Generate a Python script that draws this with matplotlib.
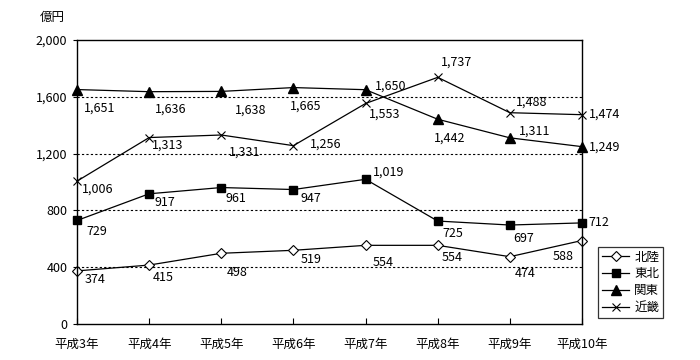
import matplotlib
matplotlib.use('Agg')
import matplotlib.pyplot as plt

plt.rcParams['font.family'] = ['Noto Sans CJK JP', 'DejaVu Sans']

# data
years = ['平成3年', '平成4年', '平成5年', '平成6年', '平成7年', '平成8年', '平成9年', '平成10年']
hokuriku = [374, 415, 498, 519, 554, 554, 474, 588]
tohoku = [729, 917, 961, 947, 1019, 725, 697, 712]
kanto = [1651, 1636, 1638, 1665, 1650, 1442, 1311, 1249]
kinki = [1006, 1313, 1331, 1256, 1553, 1737, 1488, 1474]
names = ['北陸', '東北', '関東', '近畿']
y_ticks = [0, 400, 800, 1200, 1600, 2000]

# label offsets in pixels (dx, dy down)
offsets = {
    '北陸': [(18, 9), (14, 12), (16, 19), (18, 9), (18, 17), (14, 12), (15, 17), (-19, 16)],
    '東北': [(20, 11), (16, 9), (15, 11), (17, 9), (23, -7), (15, 12), (14, 13), (17, 0)],
    '関東': [(23, 19), (22, 17), (29, 19), (12, 19), (25, -4), (12, 19), (25, -7), (23, 0)],
    '近畿': [(21, 8), (19, 8), (23, 17), (32, -2), (19, 11), (19, -15), (22, -11), (23, -1)],
}
styles = {
    '北陸': dict(marker='D', markersize=5.5, markerfacecolor='white', markeredgecolor='black', markeredgewidth=0.8),
    '東北': dict(marker='s', markersize=6, markerfacecolor='black', markeredgecolor='black'),
    '関東': dict(marker='^', markersize=7, markerfacecolor='black', markeredgecolor='black'),
    '近畿': dict(marker='x', markersize=6, markeredgecolor='black', markeredgewidth=0.8),
}
fs = 9

fig = plt.figure(figsize=(7, 3.6), dpi=100)
ax = fig.add_axes([77 / 700, 36 / 360, 505 / 700, 284 / 360])

x = list(range(len(years)))
for name, vals in zip(names, [hokuriku, tohoku, kanto, kinki]):
    ax.plot(x, vals, color='black', linewidth=0.9, label=name, clip_on=False, **styles[name])
    for xi, v, (dx, dy) in zip(x, vals, offsets[name]):
        ax.annotate(f'{v:,}', (xi, v), xytext=(dx, -dy), textcoords='offset pixels',
                    ha='center', va='center', fontsize=fs)

ax.set_xlim(0, len(years) - 1)
ax.set_ylim(0, 2000)
ax.set_yticks(y_ticks)
ax.set_yticklabels([f'{t:,}' for t in y_ticks], fontsize=fs)
ax.set_xticks(x)
ax.set_xticklabels(years, fontsize=fs)
ax.tick_params(axis='x', direction='in', length=4, pad=10)
ax.tick_params(axis='y', length=3, pad=4)
for t in y_ticks[1:-1]:
    ax.axhline(t, color='black', linestyle=(0, (2, 2)), linewidth=0.8, zorder=0)
for s in ax.spines.values():
    s.set_linewidth(1.0)

fig.text(52 / 700, 1 - 17 / 360, '億円', ha='center', va='center', fontsize=fs)

leg = ax.legend(loc='upper left', bbox_to_anchor=(598 / 700, 1 - 247 / 360),
                bbox_transform=fig.transFigure, fontsize=fs, frameon=True,
                fancybox=False, edgecolor='black', borderpad=0.3, labelspacing=0.3,
                handlelength=2.2, handletextpad=0.4, borderaxespad=0)
leg.get_frame().set_linewidth(0.9)

fig.savefig('out.png', dpi=100)
